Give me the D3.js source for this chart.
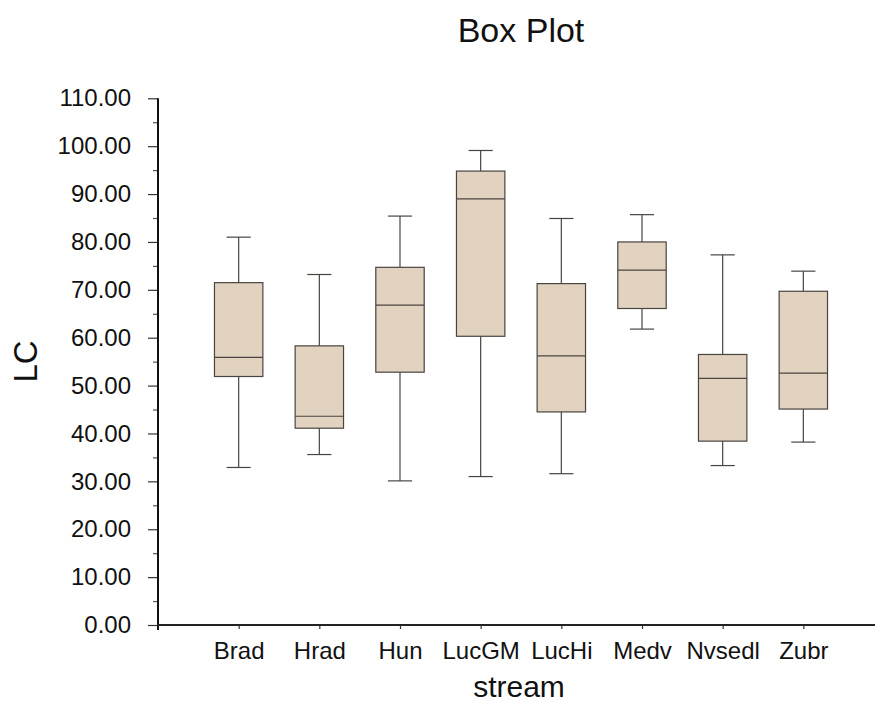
<!DOCTYPE html>
<html>
<head>
<meta charset="utf-8">
<script src="https://cdn.jsdelivr.net/npm/d3@7"></script>
<style>
  html, body { margin: 0; padding: 0; background: #fff; }
  svg { display: block; font-family: "Liberation Sans", Arial, sans-serif; }
</style>
</head>
<body>
<svg id="chart" width="875" height="702"></svg>
<script>
// Five-number summaries of LC per stream
const streams     = ["Brad", "Hrad", "Hun", "LucGM", "LucHi", "Medv", "Nvsedl", "Zubr"];
const whiskerLow  = [32.9, 35.6, 30.1, 31.0, 31.6, 61.8, 33.3, 38.2];
const quartile1   = [51.9, 41.1, 52.8, 60.3, 44.5, 66.1, 38.4, 45.1];
const medians     = [55.9, 43.6, 66.8, 89.0, 56.2, 74.1, 51.5, 52.6];
const quartile3   = [71.5, 58.3, 74.7, 94.8, 71.3, 80.0, 56.5, 69.7];
const whiskerHigh = [81.0, 73.2, 85.4, 99.1, 84.9, 85.7, 77.3, 73.9];
const yMajorTicks = [0, 10, 20, 30, 40, 50, 60, 70, 80, 90, 100, 110];
const yMinorTicks = [5, 15, 25, 35, 45, 55, 65, 75, 85, 95, 105];

const svg = d3.select("#chart");

const x = d3.scaleLinear().domain([0, streams.length + 1]).range([158, 884]);
const y = d3.scaleLinear().domain([0, 110]).range([625, 98.3]);
const step = x(1) - x(0);
const boxW = step * 0.6;
const capW = step * 0.3;

const rows = streams.map((s, i) => ({
  name: s, pos: i + 1,
  lo: whiskerLow[i], q1: quartile1[i], med: medians[i], q3: quartile3[i], hi: whiskerHigh[i]
}));

// Title
svg.append("text")
  .attr("x", 521).attr("y", 42)
  .attr("text-anchor", "middle")
  .attr("font-size", 34)
  .attr("fill", "#111")
  .text("Box Plot");

// Y axis: labelled major ticks, unlabelled minor ticks
const yAxis = svg.append("g").attr("transform", "translate(158,0)")
  .call(d3.axisLeft(y).tickValues(yMajorTicks).tickFormat(d3.format(".2f"))
    .tickSize(10).tickSizeOuter(0).tickPadding(17));
yAxis.select(".domain").remove();
yAxis.selectAll(".tick line").attr("stroke", "#333").attr("stroke-width", 1.2);
yAxis.selectAll(".tick text").attr("font-size", 24).attr("fill", "#111")
  .attr("font-family", "Liberation Sans, Arial, sans-serif");

const yMinor = svg.append("g").attr("transform", "translate(158,0)")
  .call(d3.axisLeft(y).tickValues(yMinorTicks).tickFormat("").tickSize(5).tickSizeOuter(0));
yMinor.select(".domain").remove();
yMinor.selectAll(".tick line").attr("stroke", "#555").attr("stroke-width", 1.2);

// X axis: small ticks below at each stream
const xAxis = svg.append("g").attr("transform", "translate(0,625)")
  .call(d3.axisBottom(x).tickValues(rows.map(r => r.pos))
    .tickFormat((d) => streams[d - 1]).tickSize(4).tickSizeOuter(0).tickPadding(13));
xAxis.select(".domain").remove();
xAxis.selectAll(".tick line").attr("stroke", "#333").attr("stroke-width", 1.2);
xAxis.selectAll(".tick text").attr("font-size", 24).attr("fill", "#111")
  .attr("font-family", "Liberation Sans, Arial, sans-serif");

// Axis lines
svg.append("line").attr("x1", 158).attr("x2", 158).attr("y1", y(110)).attr("y2", 630)
  .attr("stroke", "#111").attr("stroke-width", 2);
svg.append("line").attr("x1", 157).attr("x2", x(streams.length + 1)).attr("y1", 625).attr("y2", 625)
  .attr("stroke", "#222").attr("stroke-width", 2);

// Axis titles
svg.append("text")
  .attr("transform", "translate(36.5,361.5) rotate(-90)")
  .attr("text-anchor", "middle")
  .attr("font-size", 33)
  .attr("fill", "#111")
  .text("LC");

svg.append("text")
  .attr("x", 519).attr("y", 697)
  .attr("text-anchor", "middle")
  .attr("font-size", 30)
  .attr("fill", "#111")
  .text("stream");

// Boxes
const stroke = "#4a4440";
const g = svg.append("g").selectAll("g").data(rows).join("g");

g.append("line") // whisker stem
  .attr("x1", d => x(d.pos)).attr("x2", d => x(d.pos))
  .attr("y1", d => y(d.hi)).attr("y2", d => y(d.lo))
  .attr("stroke", stroke).attr("stroke-width", 1.2);

g.append("line") // upper cap
  .attr("x1", d => x(d.pos) - capW / 2).attr("x2", d => x(d.pos) + capW / 2)
  .attr("y1", d => y(d.hi)).attr("y2", d => y(d.hi))
  .attr("stroke", stroke).attr("stroke-width", 1.2);

g.append("line") // lower cap
  .attr("x1", d => x(d.pos) - capW / 2).attr("x2", d => x(d.pos) + capW / 2)
  .attr("y1", d => y(d.lo)).attr("y2", d => y(d.lo))
  .attr("stroke", stroke).attr("stroke-width", 1.2);

g.append("rect") // interquartile box
  .attr("x", d => x(d.pos) - boxW / 2).attr("width", boxW)
  .attr("y", d => y(d.q3)).attr("height", d => y(d.q1) - y(d.q3))
  .attr("fill", "#e1d3bf").attr("stroke", stroke).attr("stroke-width", 1.2);

g.append("line") // median
  .attr("x1", d => x(d.pos) - boxW / 2).attr("x2", d => x(d.pos) + boxW / 2)
  .attr("y1", d => y(d.med)).attr("y2", d => y(d.med))
  .attr("stroke", stroke).attr("stroke-width", 1.2);
</script>
</body>
</html>
